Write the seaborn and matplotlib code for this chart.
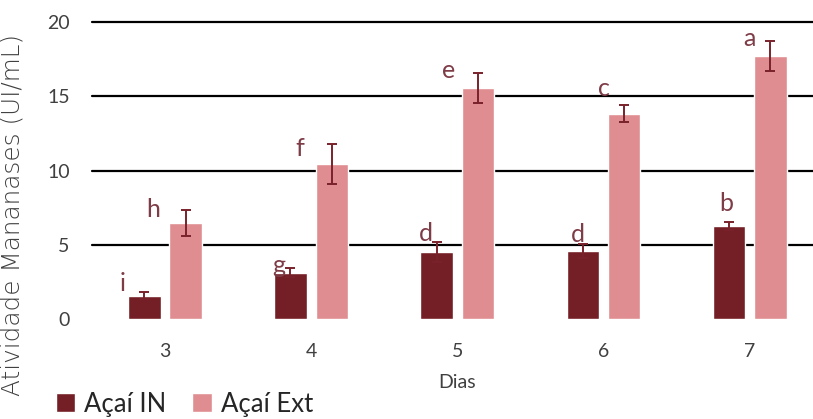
import matplotlib
matplotlib.use("Agg")
import matplotlib.pyplot as plt
from matplotlib.patches import Patch
import pandas as pd
import seaborn as sns

# Mannanase activity (UI/mL) per day of culture
dias = ["3", "4", "5", "6", "7"]
amostras = ["Açaí IN", "Açaí Ext"]
atividade_in = [1.57, 3.12, 4.52, 4.59, 6.30]
atividade_ext = [6.48, 10.43, 15.57, 13.85, 17.72]
desvio_in = [0.22, 0.32, 0.70, 0.47, 0.27]
desvio_ext = [0.90, 1.35, 1.00, 0.58, 1.02]
letras_in = ["i", "g", "d", "d", "b"]
letras_ext = ["h", "f", "e", "c", "a"]
y_ticks = [0, 5, 10, 15, 20]

# letter placement relative to the top of each bar (pixels: right, up)
offsets_in = [(-21.6, 12.0), (-11.3, 7.7), (-10.8, 18.0), (-5.0, 16.0), (-2.3, 22.4)]
offsets_ext = [(-32.7, 13.7), (-31.8, 16.0), (-29.0, 17.6), (-20.5, 25.4), (-20.5, 18.0)]

cor_in = "#741F25"
cor_ext = "#E08D91"
cor_erro = "#7A222B"
cor_letra = "#7E3C47"
cor_texto = "#404040"

sns.set_theme(style="white")
plt.rcParams["font.family"] = ["Lato", "DejaVu Sans"]

df = pd.DataFrame({
    "Dias": dias * 2,
    "Atividade": atividade_in + atividade_ext,
    "Amostra": [amostras[0]] * len(dias) + [amostras[1]] * len(dias),
})

fig = plt.figure(figsize=(8.13, 4.19), dpi=100)
ax = fig.add_axes([0.113, 0.2387, 0.899, 0.708])

sns.barplot(data=df, x="Dias", y="Atividade", hue="Amostra", order=dias,
            hue_order=amostras, palette=[cor_in, cor_ext], saturation=1,
            width=0.566, gap=0.215, errorbar=None, legend=False, ax=ax, zorder=3)

ax.set_xlim(-0.5, len(dias) - 0.5)
ax.set_ylim(0, 20)
ax.set_yticks(y_ticks)
for v in y_ticks[1:]:
    ax.axhline(v, color="black", lw=1.6, zorder=1, clip_on=False)

px = 0.72  # points per pixel at 100 dpi
for cont, err, letras, offs in [
    (ax.containers[0], desvio_in, letras_in, offsets_in),
    (ax.containers[1], desvio_ext, letras_ext, offsets_ext),
]:
    xs = [b.get_x() + b.get_width() / 2 for b in cont]
    hs = [b.get_height() for b in cont]
    ax.errorbar(xs, hs, yerr=err, fmt="none", ecolor=cor_erro, elinewidth=1.4,
                capsize=3.4, capthick=1.4, zorder=4)
    for x, h, t, (dx, dy) in zip(xs, hs, letras, offs):
        ax.annotate(t, (x, h), xytext=(dx * px, dy * px), textcoords="offset points",
                    ha="center", va="center", fontsize=18, color=cor_letra, zorder=5)

for s in ax.spines.values():
    s.set_visible(False)
ax.tick_params(axis="both", length=0, labelsize=14, colors=cor_texto)
ax.tick_params(axis="y", pad=16)
ax.tick_params(axis="x", pad=17)

ax.set_xlabel("Dias", fontsize=14, color=cor_texto)
ax.xaxis.set_label_coords(0.4995, -0.185)
ax.set_ylabel("Atividade Mananases (UI/mL)", fontsize=17.8, color=cor_texto,
              family=["DejaVu Sans"], fontweight="light")
ax.yaxis.set_label_coords(-0.092, 0.352)

handles = [Patch(facecolor=cor_in, label=amostras[0]),
           Patch(facecolor=cor_ext, label=amostras[1])]
fig.legend(handles=handles, loc="lower left", bbox_to_anchor=(0.047, -0.037),
           ncol=2, frameon=False, handlelength=0.75, handleheight=0.75,
           handletextpad=0.35, columnspacing=1.0, borderpad=0.2,
           prop={"size": 18.5}, labelcolor="#262626")

fig.savefig("out.png", dpi=100)
